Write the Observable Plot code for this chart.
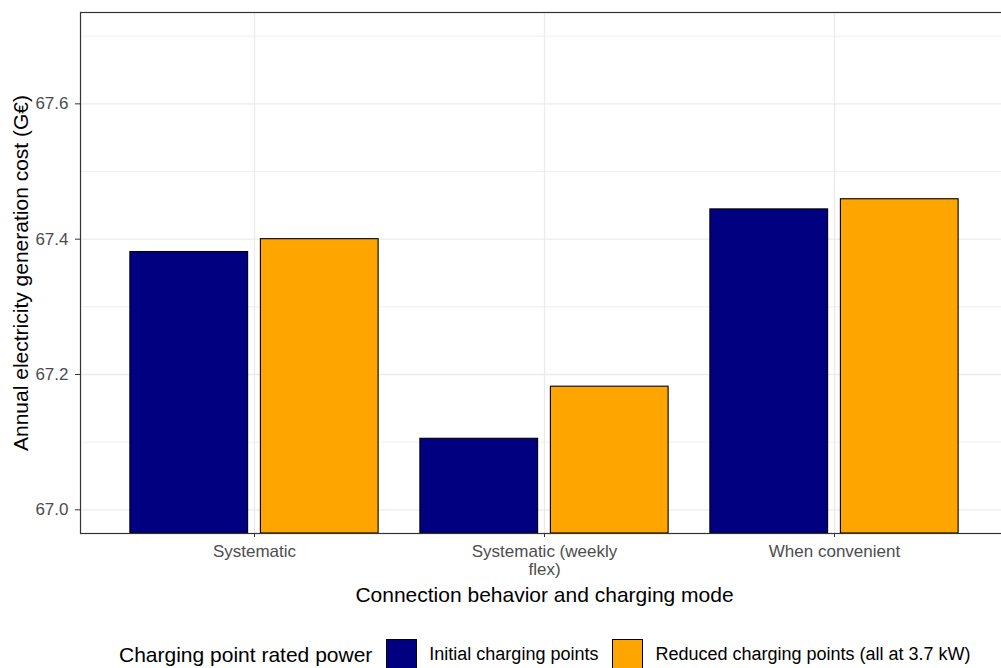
<!DOCTYPE html>
<html>
<head>
<meta charset="utf-8">
<script src="https://cdn.jsdelivr.net/npm/d3@7"></script>
<script src="https://cdn.jsdelivr.net/npm/@observablehq/plot@0.6"></script>
<style>
  html, body { margin: 0; padding: 0; background: #fff; overflow: hidden; width: 1001px; height: 668px; }
  #wrap { position: relative; width: 1009px; height: 668px; font-family: "Liberation Sans", Arial, sans-serif; }
  #legend { position: absolute; left: 119px; top: 639px; height: 31px; display: flex; align-items: center; white-space: nowrap; }
  #legend .title { font-size: 21px; color: #000; margin-right: 14px; }
  #legend .key { width: 29px; height: 29px; border: 1px solid #000; margin-right: 12px; }
  #legend .lab { font-size: 18px; color: #000; margin-right: 14px; }
</style>
</head>
<body>
<div id="wrap"></div>
<script>
// ---- data ----
const categories = ["Systematic", "Systematic (weekly flex)", "When convenient"];
const categoryLabels = ["Systematic", "Systematic (weekly\nflex)", "When convenient"];
const series = ["Initial charging points", "Reduced charging points (all at 3.7 kW)"];
const initialValues = [67.381, 67.105, 67.444];
const reducedValues = [67.400, 67.182, 67.459];
const yMajorTicks = [67.0, 67.2, 67.4, 67.6];
const yMinorTicks = [67.1, 67.3, 67.5, 67.7];
const seriesColors = ["#000080", "#FFA500"];
const yTitle = "Annual electricity generation cost (G€)";
const xTitle = "Connection behavior and charging mode";
const legendTitle = "Charging point rated power";

// ---- layout rules (ggplot-like dodge) ----
const yDomain = [66.965, 67.735];
const dodgeWidth = 0.45;
const barHalf = 0.203;

const rows = [];
categories.forEach((c, i) => {
  [initialValues, reducedValues].forEach((vals, j) => {
    const center = i + 1 + (j - 0.5) * dodgeWidth;
    rows.push({category: c, series: series[j], value: vals[i], x1: center - barHalf, x2: center + barHalf});
  });
});
const catPos = categories.map((c, i) => i + 1);

const chart = Plot.plot({
  width: 1009,
  height: 628,
  marginLeft: 80,
  marginRight: 1,
  marginTop: 12,
  marginBottom: 95,
  style: {fontFamily: "'Liberation Sans', Arial, sans-serif", background: "white", overflow: "visible"},
  x: {type: "linear", domain: [0.4, 3.6], axis: null},
  y: {domain: yDomain, axis: null},
  color: {domain: series, range: seriesColors},
  marks: [
    Plot.ruleY(yMinorTicks, {stroke: "#EBEBEB", strokeWidth: 0.8}),
    Plot.ruleY(yMajorTicks, {stroke: "#EBEBEB", strokeWidth: 1.3}),
    Plot.ruleX(catPos, {stroke: "#EBEBEB", strokeWidth: 1.3}),
    Plot.rectY(rows, {x1: "x1", x2: "x2", y1: () => yDomain[0], y2: "value", fill: "series", stroke: "black", strokeWidth: 1.1, clip: true}),
    Plot.frame({stroke: "#333333", strokeWidth: 1.2}),
    Plot.axisY(yMajorTicks, {tickSize: 5, tickPadding: 7, tickFormat: d => d.toFixed(1), fontSize: 17, color: "#4D4D4D", stroke: "#333333", label: null}),
    Plot.axisX(catPos, {tickSize: 4, tickPadding: 7, tickFormat: d => categoryLabels[d - 1], fontSize: 17, color: "#4D4D4D", stroke: "#333333", lineHeight: 1.05, label: null}),
    Plot.text([xTitle], {frameAnchor: "bottom", dy: 62, fontSize: 21, fill: "black", lineAnchor: "middle", textAnchor: "middle"}),
    Plot.text([yTitle], {frameAnchor: "left", dx: -59, rotate: -90, fontSize: 21, fill: "black", lineAnchor: "middle", textAnchor: "middle"})
  ]
});

const wrap = document.getElementById("wrap");
wrap.appendChild(chart);

const legend = document.createElement("div");
legend.id = "legend";
const t = document.createElement("span");
t.className = "title";
t.textContent = legendTitle;
legend.appendChild(t);
series.forEach((s, j) => {
  const k = document.createElement("span");
  k.className = "key";
  k.style.background = seriesColors[j];
  legend.appendChild(k);
  const l = document.createElement("span");
  l.className = "lab";
  l.textContent = s;
  legend.appendChild(l);
});
wrap.appendChild(legend);
</script>
</body>
</html>
